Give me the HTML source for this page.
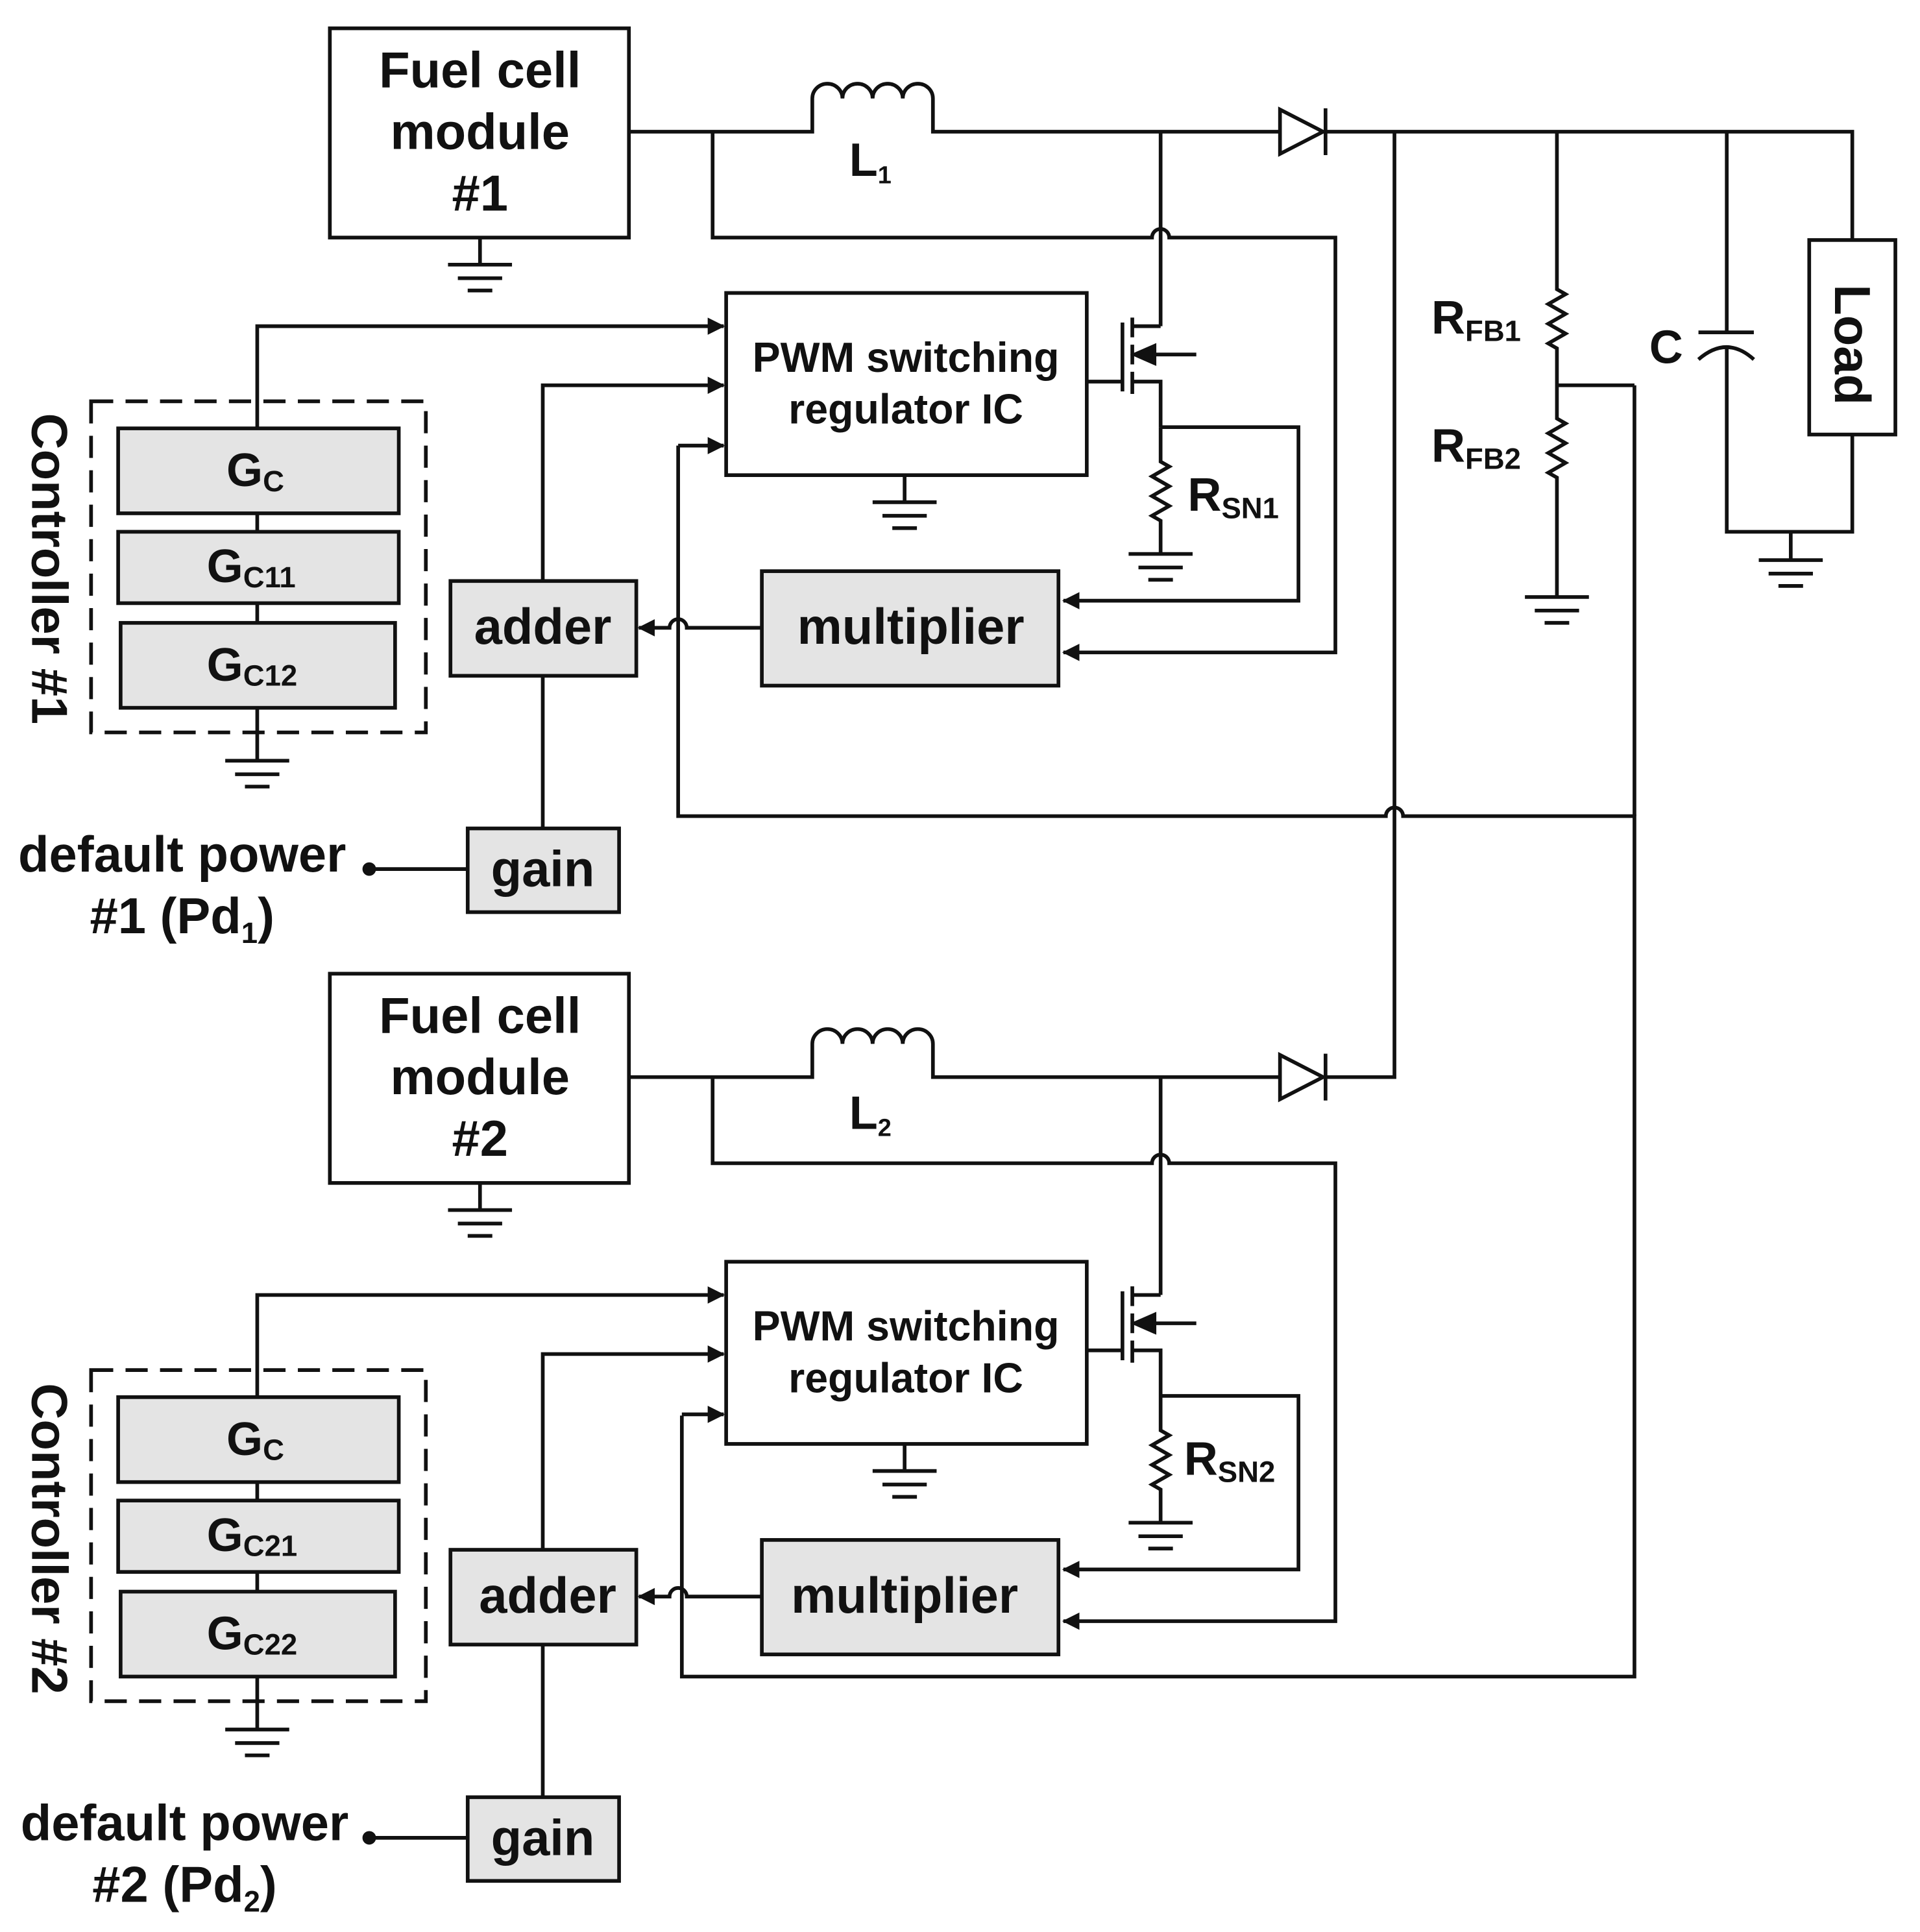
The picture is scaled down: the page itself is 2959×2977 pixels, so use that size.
<!DOCTYPE html>
<html><head><meta charset="utf-8"><style>
html,body{margin:0;padding:0;background:#fff}
svg{display:block}
text{font-family:"Liberation Sans",Arial,sans-serif;font-weight:bold;fill:#111}
</style></head><body>
<svg xmlns="http://www.w3.org/2000/svg" width="2959" height="2977" viewBox="0 0 1560 1569.5">
<defs>
<marker id="a" markerWidth="16" markerHeight="16" refX="13" refY="8" orient="auto" markerUnits="userSpaceOnUse"><path d="M0,1 L14,8 L0,15 Z" fill="#111"/></marker>
<g id="low" fill="none" stroke="#111" stroke-width="3">
 <!-- mosfet -->
 <path d="M912,262 V318 M920,258 V274 M920,280 V296 M920,302 V320 M883,310 H912 M920,310 H943 V347 M972,288 H925 M920,265 H943"/>
 <path d="M922,288 L938,281 L938,295 Z" fill="#111"/>
 <!-- sense -->
 <path d="M943,347 H1055 V488 H864" marker-end="url(#a)"/>
 <path d="M943,347 V375 l7,4 l-14,8 l14,8 l-14,8 l14,8 l-14,8 l7,4 V450 M917,450 H969 M925,461 H961 M933,471 H953"/>
 <!-- PWM -->
 <rect x="590" y="238" width="293" height="148" fill="#fff"/>
 <path d="M735,386 V408 M709,408 H761 M717,419 H753 M725,429 H745"/>
 <!-- controller -->
 <path d="M209,348 V265 H588" marker-end="url(#a)"/>
 <rect x="74" y="326" width="272" height="269" stroke-dasharray="18,10"/>
 <path d="M209,417 V432 M209,490 V506 M209,575 V618 M183,618 H235 M191,629 H227 M199,639 H219"/>
 <rect x="96" y="348" width="228" height="69" fill="#e4e4e4"/>
 <rect x="96" y="432" width="228" height="58" fill="#e4e4e4"/>
 <rect x="98" y="506" width="223" height="69" fill="#e4e4e4"/>
 <path d="M441,472 V313 H588" marker-end="url(#a)"/>
 <path d="M619,510 H558 a7,7 0 0 0 -14,0 H519" marker-end="url(#a)"/>
 <rect x="366" y="472" width="151" height="77" fill="#e4e4e4"/>
 <rect x="619" y="464" width="241" height="93" fill="#e4e4e4"/>
 <path d="M441,549 V673 M300,706 H380"/>
 <circle cx="300" cy="706" r="4" fill="#111"/>
 <rect x="380" y="673" width="123" height="68" fill="#e4e4e4"/>
</g>
<g id="top" fill="none" stroke="#111" stroke-width="3">
 <rect x="268" y="23" width="243" height="170" fill="#fff"/>
 <path d="M390,193 V215 M364,215 H416 M372,226 H408 M380,236 H400"/>
 <path d="M511,107 H660 V80 a12.25,12 0 0 1 24.5,0 a12.25,12 0 0 1 24.5,0 a12.25,12 0 0 1 24.5,0 a12.25,12 0 0 1 24.5,0 V107 H1040"/>
 <path d="M1040,89 L1075,107 L1040,125 Z M1077,88 V126" fill="#fff"/>
</g>
</defs>
<use href="#top"/>
<use href="#top" transform="translate(0,768)"/>
<use href="#low"/>
<use href="#low" transform="translate(0,787)"/>
<g fill="none" stroke="#111" stroke-width="3">
 <path d="M579,107 V193 H936 a7,7 0 0 1 14,0 H1085 V530 H864" marker-end="url(#a)"/>
 <path d="M943,107 V265"/>
 <path d="M579,875 V945 H936 a7,7 0 0 1 14,0 H1085 V1317 H864" marker-end="url(#a)"/>
 <path d="M943,875 V1052"/>
 <path d="M1077,107 H1505 V195"/>
 <path d="M1077,875 H1133 V107"/>
 <path d="M551,362 V663 H1126 a7,7 0 0 1 14,0 H1328 V1362 H554 V1150"/>
 <path d="M1328,313 V663"/>
 <path d="M551,362 H588" marker-end="url(#a)"/>
 <path d="M554,1149 H588" marker-end="url(#a)"/>
 <path d="M1265,107 V235 l7,4 l-14,8 l14,8 l-14,8 l14,8 l-14,8 l7,4 V340 l7,4 l-14,8 l14,8 l-14,8 l14,8 l-14,8 l7,4 V485 M1239,485 H1291 M1247,496 H1283 M1255,506 H1275"/>
 <path d="M1265,313 H1328"/>
 <path d="M1403,107 V270 M1380,270 H1425 M1380,292 Q1403,272 1425,292 M1403,281 V432 H1505 V353 M1455,432 V455 M1429,455 H1481 M1437,466 H1473 M1445,476 H1465"/>
 <rect x="1470" y="195" width="70" height="158" fill="#fff"/>
</g>
<g font-size="41" text-anchor="middle">
 <text x="390" y="71">Fuel cell</text><text x="390" y="121">module</text><text x="390" y="171">#1</text>
 <text x="390" y="839">Fuel cell</text><text x="390" y="889">module</text><text x="390" y="939">#2</text>
 <text x="441" y="523">adder</text><text x="445" y="1310">adder</text>
 <text x="740" y="523">multiplier</text><text x="735" y="1310">multiplier</text>
 <text x="441" y="720">gain</text><text x="441" y="1507">gain</text>
 <text x="148" y="708">default power</text><text x="150" y="1495">default power</text>
 <text x="148" y="758">#1 (Pd<tspan font-size="24" dy="8">1</tspan><tspan dy="-8">)</tspan></text>
 <text x="150" y="1545">#2 (Pd<tspan font-size="24" dy="8">2</tspan><tspan dy="-8">)</tspan></text>
 <text transform="translate(26,462) rotate(90)">Controller #1</text>
 <text transform="translate(26,1250) rotate(90)">Controller #2</text>
 <text transform="translate(1491,280) rotate(90)">Load</text>
</g>
<g font-size="34" text-anchor="middle">
 <text x="736" y="302">PWM switching</text><text x="736" y="344">regulator IC</text>
 <text x="736" y="1089">PWM switching</text><text x="736" y="1131">regulator IC</text>
</g>
<g font-size="38">
 <text x="690" y="143">L<tspan font-size="20" dy="6">1</tspan></text>
 <text x="690" y="917">L<tspan font-size="20" dy="6">2</tspan></text>
 <text x="184" y="395">G<tspan font-size="24" dy="4">C</tspan></text>
 <text x="168" y="473">G<tspan font-size="24" dy="4">C11</tspan></text>
 <text x="168" y="553">G<tspan font-size="24" dy="4">C12</tspan></text>
 <text x="184" y="1182">G<tspan font-size="24" dy="4">C</tspan></text>
 <text x="168" y="1260">G<tspan font-size="24" dy="4">C21</tspan></text>
 <text x="168" y="1340">G<tspan font-size="24" dy="4">C22</tspan></text>
 <text x="965" y="415">R<tspan font-size="24" dy="6">SN1</tspan></text>
 <text x="962" y="1198">R<tspan font-size="24" dy="6">SN2</tspan></text>
 <text x="1163" y="271">R<tspan font-size="24" dy="6">FB1</tspan></text>
 <text x="1163" y="375">R<tspan font-size="24" dy="6">FB2</tspan></text>
 <text x="1340" y="295">C</text>
</g>
</svg>
</body></html>
